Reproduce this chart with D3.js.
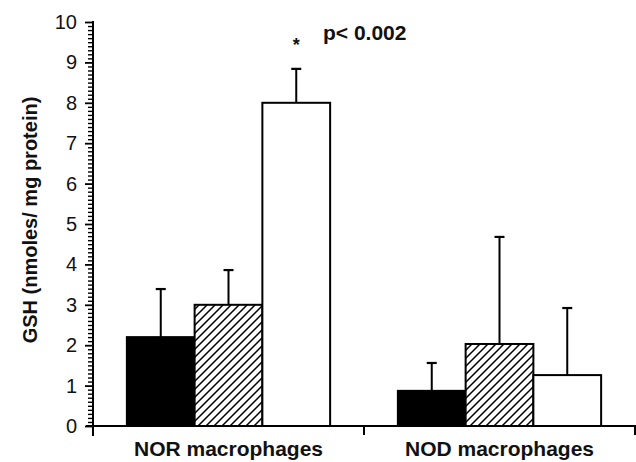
<!DOCTYPE html>
<html><head><meta charset="utf-8">
<script src="https://cdn.jsdelivr.net/npm/d3@7"></script>
<style>html,body{margin:0;padding:0;background:#fff;}svg{display:block;}</style>
</head><body>
<svg id="chart" width="636" height="462"></svg>
<script>
const categories = ["NOR macrophages", "NOD macrophages"];
const seriesNames = ["solid", "hatched", "open"];
const meanValues = [[2.2, 3.0, 8.0], [0.87, 2.03, 1.26]];
const errorTops = [[3.39, 3.86, 8.84], [1.56, 4.68, 2.92]];
const yTicks = [0,1,2,3,4,5,6,7,8,9,10];
const yLabel = "GSH (nmoles/ mg protein)";
const annotation = "p< 0.002";
const star = "*";

const svg = d3.select("#chart");
const font = "'Liberation Sans', Arial, Helvetica, sans-serif";
const defs = svg.append("defs");
const pat = defs.append("pattern").attr("id","hatch").attr("patternUnits","userSpaceOnUse")
  .attr("width",8).attr("height",8);
pat.append("rect").attr("width",8).attr("height",8).attr("fill","#fff");
pat.append("path").attr("d","M-2,2 L2,-2 M0,8 L8,0 M6,10 L10,6").attr("stroke","#000").attr("stroke-width",1.5);

const x0 = 93, xEnd = 635, yBase = 426, yTop = 22;
const y = d3.scaleLinear().domain([0,10]).range([yBase, yTop]);
const xg = d3.scaleBand().domain(categories).range([x0, xEnd]).padding(0);
const bw = xg.bandwidth();
const xs = d3.scaleBand().domain(seriesNames).range([bw*0.125, bw*0.875]).padding(0);
const fills = {solid:"#000", hatched:"url(#hatch)", open:"#fff"};

// y axis: one axis with all ticks every 0.1; majors labelled and longer
const allTicks = d3.range(0, 101).map(i => i / 10);
const isMajor = v => Math.abs(v - Math.round(v)) < 1e-6;
const yAxis = d3.axisLeft(y).tickValues(allTicks).tickSize(8).tickPadding(8)
  .tickFormat(v => isMajor(v) ? d3.format("d")(v) : "");
const ga = svg.append("g").attr("transform",`translate(${x0},0)`).call(yAxis);
ga.select(".domain").remove();
ga.selectAll(".tick line")
  .attr("stroke","#000")
  .attr("stroke-width", v => isMajor(v) ? 1.8 : 1.4)
  .attr("x2", v => isMajor(v) ? -8 : -5);
ga.selectAll(".tick text").attr("font-family",font).attr("font-size",20).attr("fill","#111");
svg.append("line").attr("x1",x0).attr("x2",x0).attr("y1",y(10)-1).attr("y2",yBase+10)
  .attr("stroke","#000").attr("stroke-width",2);

// x axis
svg.append("line").attr("x1",x0-7).attr("x2",xEnd+2).attr("y1",yBase).attr("y2",yBase)
  .attr("stroke","#000").attr("stroke-width",2);
const xTickPos = [x0].concat(categories.map(c => xg(c)+bw));
svg.selectAll(".xt").data(xTickPos).join("line").attr("x1",d=>d).attr("x2",d=>d)
  .attr("y1",yBase).attr("y2",yBase+9).attr("stroke","#000").attr("stroke-width",2);
svg.selectAll(".xl").data(categories).join("text")
  .attr("x",d=>xg(d)+bw/2).attr("y",456).attr("text-anchor","middle")
  .attr("font-family",font).attr("font-weight","bold").attr("font-size",21).attr("fill","#111")
  .text(d=>d);

// bars
const data = [];
categories.forEach((c,i)=>seriesNames.forEach((s,j)=>data.push({c,s,v:meanValues[i][j],e:errorTops[i][j]})));
const g = svg.append("g");
g.selectAll(".err").data(data).join("line")
  .attr("x1",d=>xg(d.c)+xs(d.s)+xs.bandwidth()/2).attr("x2",d=>xg(d.c)+xs(d.s)+xs.bandwidth()/2)
  .attr("y1",d=>y(d.v)).attr("y2",d=>y(d.e)).attr("stroke","#000").attr("stroke-width",2);
g.selectAll(".cap").data(data).join("line")
  .attr("x1",d=>xg(d.c)+xs(d.s)+xs.bandwidth()/2-5).attr("x2",d=>xg(d.c)+xs(d.s)+xs.bandwidth()/2+5)
  .attr("y1",d=>y(d.e)).attr("y2",d=>y(d.e)).attr("stroke","#000").attr("stroke-width",2.2);
g.selectAll(".bar").data(data).join("rect")
  .attr("x",d=>xg(d.c)+xs(d.s)).attr("width",xs.bandwidth())
  .attr("y",d=>y(d.v)).attr("height",d=>yBase-y(d.v))
  .attr("fill",d=>fills[d.s]).attr("stroke","#000").attr("stroke-width",2);

// annotation
const starBar = data[2];
svg.append("text").attr("x",xg(starBar.c)+xs(starBar.s)+xs.bandwidth()/2).attr("y",51)
  .attr("text-anchor","middle").attr("font-family",font).attr("font-weight","bold").attr("font-size",18)
  .attr("fill","#111").text(star);
svg.append("text").attr("x",323).attr("y",40).attr("font-family",font).attr("font-weight","bold")
  .attr("font-size",21).attr("fill","#111").text(annotation);

// y label
svg.append("text").attr("transform",`translate(37,220) rotate(-90)`)
  .attr("text-anchor","middle").attr("font-family",font).attr("font-weight","bold").attr("font-size",20)
  .attr("fill","#111").text(yLabel);
</script>
</body></html>
